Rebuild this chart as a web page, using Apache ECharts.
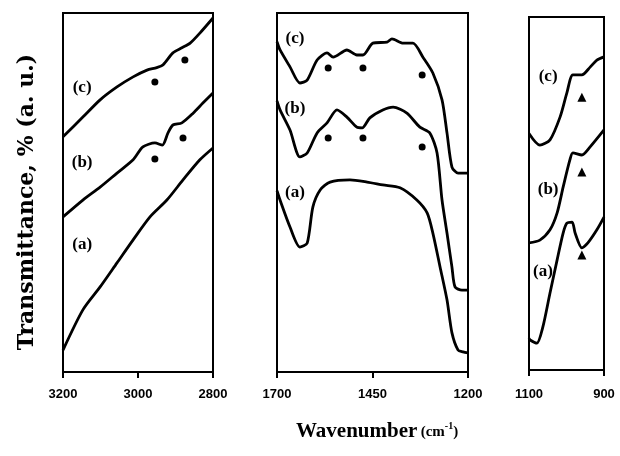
<!DOCTYPE html>
<html><head><meta charset="utf-8">
<script src="https://cdn.jsdelivr.net/npm/echarts@6/dist/echarts.min.js"></script>
<style>html,body{margin:0;padding:0;background:#fff}#c{width:620px;height:456px}</style>
</head><body><div id="c"></div>
<script>
// Panel 1: 3200-2800 cm-1
const p1_a = [[3200,6.1],[3147,17.3],[3101,23.7],[3056,30.4],[3013,36.8],[2968,43.2],[2923,47.9],[2880,53.5],[2835,59.1],[2800,62.4]];
const p1_b = [[3200,43.2],[3147,47.9],[3101,51.5],[3056,55.4],[3013,59.1],[2987,62.7],[2955,63.8],[2935,63.2],[2920,66.6],[2907,68.8],[2883,69.4],[2853,72.1],[2827,74.9],[2800,77.7]];
const p1_c = [[3200,65.5],[3147,71.0],[3101,75.8],[3056,79.4],[3013,82.2],[2976,84.1],[2950,84.8],[2933,85.6],[2907,88.9],[2883,90.3],[2861,91.6],[2835,94.4],[2800,98.6]];
const p1_dots = [[2955,80.8],[2875,86.9],[2955,59.3],[2880,65.2]];
// Panel 2: 1700-1200 cm-1
const p2_a = [[1700,50.5],[1692,47.9],[1666,40.4],[1640,34.8],[1621,35.9],[1606,46.0],[1587,50.7],[1561,52.9],[1509,53.5],[1464,52.9],[1423,52.1],[1378,51.3],[1334,47.9],[1307,44.3],[1292,38.7],[1273,29.2],[1255,20.1],[1242,10.9],[1226,6.1],[1213,5.6],[1200,5.3]];
const p2_b = [[1700,75.5],[1692,73.0],[1666,67.4],[1640,59.9],[1621,61.0],[1595,66.6],[1569,69.4],[1543,73.0],[1517,71.0],[1491,68.2],[1477,68.0],[1457,70.8],[1423,73.0],[1396,73.8],[1360,72.1],[1326,68.2],[1300,66.6],[1281,61.0],[1268,47.9],[1255,38.7],[1242,29.2],[1234,23.7],[1216,22.8],[1200,22.8]];
const p2_c = [[1700,92.0],[1692,89.7],[1666,85.0],[1640,80.5],[1621,81.3],[1595,86.9],[1569,88.9],[1553,87.7],[1517,89.7],[1491,88.3],[1475,88.3],[1449,91.6],[1412,91.9],[1399,92.8],[1370,91.6],[1344,91.6],[1318,87.7],[1292,83.3],[1268,75.8],[1255,66.6],[1242,57.1],[1226,55.4],[1200,55.4]];
const p2_dots = [[1566,84.7],[1475,84.7],[1320,82.7],[1566,65.2],[1475,65.2],[1320,62.7]];
// Panel 3: 1100-900 cm-1
const p3_a = [[1100,9.0],[1097,8.5],[1079,7.6],[1063,12.2],[1044,21.8],[1025,31.2],[1009,38.8],[999,41.6],[985,41.9],[977,38.8],[959,34.6],[943,36.0],[919,39.7],[900,43.3]];
const p3_b = [[1100,36.0],[1071,36.8],[1044,39.7],[1025,44.5],[1009,51.8],[991,59.5],[983,61.5],[959,60.9],[937,63.2],[900,68.0]];
const p3_c = [[1100,67.0],[1071,63.7],[1044,65.2],[1017,71.7],[999,78.5],[983,83.6],[959,83.6],[937,85.8],[919,87.8],[900,88.7]];
const p3_tris = [[959,77.3],[959,56.1],[959,32.6]];
// Curve labels
const labels1 = [[3149,79.1,'(c)'],[3149,58.2,'(b)'],[3149,35.4,'(a)']];
const labels2 = [[1653,93.0,'(c)'],[1653,73.5,'(b)'],[1653,49.9,'(a)']];
const labels3 = [[1049,83.0,'(c)'],[1049,51.0,'(b)'],[1063,27.8,'(a)']];
const xRanges = [[2800,3200,200],[1200,1700,250],[900,1100,200]];

const chart = echarts.init(document.getElementById('c'), null, {renderer:'canvas'});
const grids = [
  {left:63, top:13, width:150, height:359},
  {left:277, top:13, width:191, height:359},
  {left:529, top:17, width:75, height:353}
].map(g => Object.assign(g, {show:true, borderColor:'#000', borderWidth:2, backgroundColor:'transparent'}));

const xAxes = xRanges.map((r,i)=>({
  type:'value', gridIndex:i, min:r[0], max:r[1], interval:r[2], inverse:true,
  axisLine:{show:true, onZero:false, lineStyle:{color:'#000', width:2}},
  axisTick:{show:true, inside:false, length:6, lineStyle:{color:'#000', width:2}},
  axisLabel:{show:true, margin:i===2?18:16, color:'#000', fontSize:13, fontFamily:'Liberation Sans', fontWeight:'bold', formatter:v=>String(v)},
  splitLine:{show:false}
}));
const yAxes = [0,1,2].map(i=>({type:'value', gridIndex:i, min:0, max:100, show:false}));

function line(d,i){return {type:'line', xAxisIndex:i, yAxisIndex:i, data:d, showSymbol:false, smooth:0.25, lineStyle:{color:'#000', width:2.8, opacity:1}, silent:true};}
function pts(d,i,sym,size){return {type:'scatter', xAxisIndex:i, yAxisIndex:i, data:d, symbol:sym, symbolSize:size, itemStyle:{color:'#000', opacity:1}, silent:true};}
function lab(d,i){return {type:'scatter', xAxisIndex:i, yAxisIndex:i, symbolSize:1, itemStyle:{color:'#fff', opacity:0},
  data:d.map(v=>({value:[v[0],v[1]], name:v[2]})),
  label:{show:true, position:'inside', formatter:p=>p.name, color:'#000', opacity:1, fontSize:17, fontWeight:'bold', fontFamily:'Liberation Serif'}, silent:true};}

chart.setOption({
  animation:false,
  grid:grids, xAxis:xAxes, yAxis:yAxes,
  series:[
    line(p1_a,0),line(p1_b,0),line(p1_c,0),pts(p1_dots,0,'circle',7),lab(labels1,0),
    line(p2_a,1),line(p2_b,1),line(p2_c,1),pts(p2_dots,1,'circle',7),lab(labels2,1),
    line(p3_a,2),line(p3_b,2),line(p3_c,2),pts(p3_tris,2,'triangle',9),lab(labels3,2)
  ],
  graphic:[
    {type:'text', x:27, y:202, rotation:Math.PI/2,
     style:{text:'Transmittance, % (a. u.)', fill:'#000', font:'bold 22px "DejaVu Serif"', align:'center', verticalAlign:'middle'}},
    {type:'text', x:296, y:432,
     style:{rich:{a:{fontSize:21, fontWeight:'bold', fontFamily:'Liberation Serif', fill:'#000'},
                  b:{fontSize:15, fontWeight:'bold', fontFamily:'Liberation Serif', fill:'#000'},
                  c:{fontSize:10, fontWeight:'bold', fontFamily:'Liberation Serif', fill:'#000', verticalAlign:'top'}},
            text:'{a|Wavenumber} {b|(cm}{c|-1}{b|)}', verticalAlign:'middle'}}
  ]
});
</script></body></html>
